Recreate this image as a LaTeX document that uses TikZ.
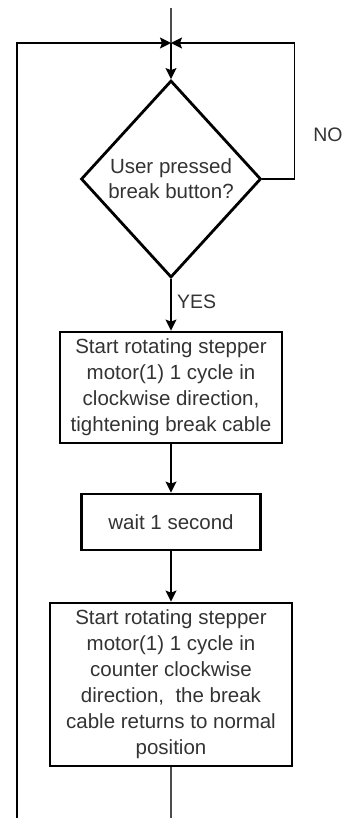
\documentclass[tikz,border=0pt]{standalone}
\usepackage{fontspec}
\setmainfont{Liberation Sans}
\usetikzlibrary{shapes.geometric,arrows.meta}

\begin{document}
\begin{tikzpicture}[x=1pt,y=-1pt,
    box/.style={draw,line width=2.8pt,inner sep=0pt,align=center,text=black!80,
      font=\fontsize{20.5}{26}\selectfont},
    decision/.style={diamond,draw,line width=2.8pt,inner sep=-6pt,align=center,
      minimum width=180pt,minimum height=197pt,text=black!80,
      font=\fontsize{20.5}{25}\selectfont},
    flow/.style={line width=1.5pt,-{Stealth[length=11pt,width=11pt,inset=2pt]}},
    tag/.style={text=black!80,font=\fontsize{19.5}{22}\selectfont}]
    \useasboundingbox (0,0) rectangle (350,818);

    \coordinate (start) at (171,8);
    \coordinate (join) at (171,43);
    \coordinate (finish) at (171,818);
    \coordinate (back) at (17,818);

    \node[decision] (ask) at (171,179) {User pressed\\break button?};
    \node[box,minimum width=222pt,minimum height=111pt] (tighten) at (171,387.5)
      {Start rotating stepper\\motor(1) 1 cycle in\\clockwise direction,\\tightening break cable};
    \node[box,minimum width=179pt,minimum height=56pt] (wait) at (171,522) {wait 1 second};
    \node[box,minimum width=242pt,minimum height=163pt] (release) at (171,684.5)
      {Start rotating stepper\\motor(1) 1 cycle in\\counter clockwise\\direction,\ \ the break\\cable returns to normal\\position};

    \node[tag] (no) at (328,135) {NO};

    \draw[line width=1.5pt,black!70] (start) -- (join);
    \draw[flow] (join) -- (ask.north);
    \draw[flow] (ask.east) -- ++(32,0) |- (join);
    \draw[flow] (back) |- (join);
    \draw[flow] (ask.south) -- node[tag,right,pos=0.45,xshift=2pt] (yes) {YES} (tighten.north);
    \draw[flow] (tighten.south) -- (wait.north);
    \draw[flow] (wait.south) -- (release.north);
    \draw[line width=1.5pt,black!70] (release.south) -- (finish);
\end{tikzpicture}
\end{document}
